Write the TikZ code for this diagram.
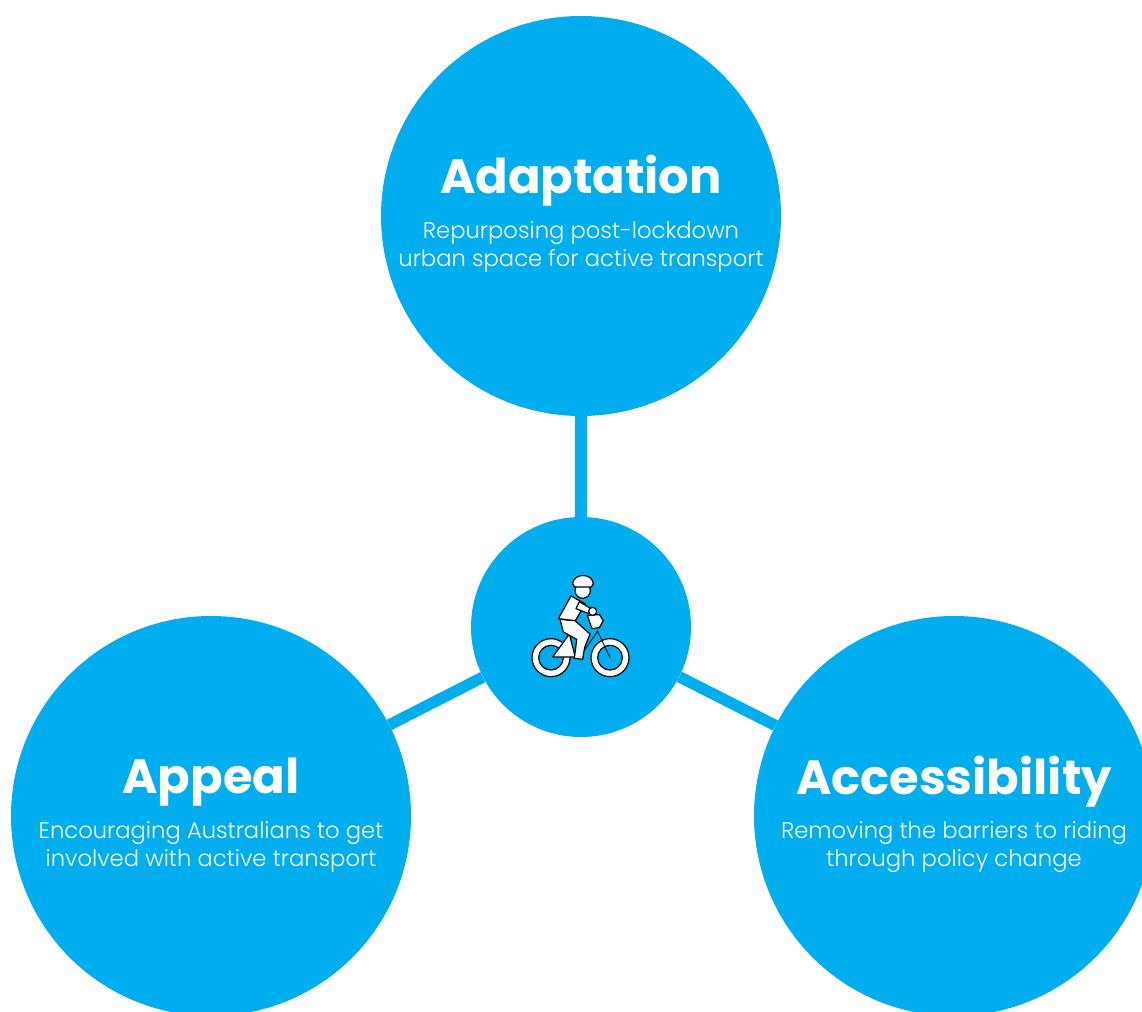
\documentclass[tikz,border=0pt]{standalone}
\usepackage{fontspec}
\setmainfont{Poppins}
\newfontfamily\lightface{Poppins Light}
\definecolor{skyb}{HTML}{00AEEF}
\tikzset{
  bubble/.style={circle,fill=skyb,inner sep=0pt,minimum size=300pt},
  hub/.style={circle,fill=skyb,inner sep=0pt,minimum size=165pt},
  link/.style={draw=skyb,line width=8.5pt},
  heading/.style={text=white,font=\fontsize{36}{40}\selectfont\bfseries,inner sep=0pt},
  blurb/.style={text=white,font=\lightface\fontsize{17}{20.7}\selectfont,align=center,inner sep=0pt},
  ink/.style={draw=black,line width=.9pt,fill=white,line join=round,line cap=round},
  thin ink/.style={draw=black,line width=.6pt,line cap=round}
}
\begin{document}
\begin{tikzpicture}[x=0.75pt,y=-0.75pt]
\path[use as bounding box,clip] (0,0) rectangle (1142,1012);
\fill[white] (0,0) rectangle (1142,1012);
\node[bubble] (top) at (581,216) {};
\node[hub] (mid) at (581,627) {};
\node[bubble] (left) at (211,816) {};
\node[bubble] (right) at (954,816) {};
\draw[link] (top) -- (mid);
\draw[link] (left) -- (mid);
\draw[link] (right) -- (mid);
\node[heading] (t1) at (581,181) {Adaptation};
\node[blurb] (t2) at (581,247) {Repurposing post-lockdown\\urban space for active transport};
\node[heading] (l1) at (211,782) {Appeal};
\node[blurb] (l2) at (211,847) {Encouraging Australians to get\\involved with active transport};
\node[heading] (r1) at (954,782) {Accessibility};
\node[blurb] (r2) at (954,847) {Removing the barriers to riding\\through policy change};
\begin{scope}[shift={(510,560)},x=0.25pt,y=-0.25pt]
  % wheels
  \path[ink,even odd rule] (123,293) circle[radius=57] (123,293) circle[radius=37];
  \path[ink,even odd rule] (300,293) circle[radius=57] (300,293) circle[radius=37];
  % frame
  \draw[thin ink] (262,212) -- (300,293);
  \draw[thin ink] (225,268) -- (262,215);
  \draw[thin ink] (195,290) -- (225,268);
  % seat triangle
  \path[ink] (128,291) -- (178,222) -- (196,291) -- cycle;
  % leg
  \path[ink] (150,178) -- (195,182) -- (240,222) -- (224,262) -- (218,298) -- (193,295) -- (198,255) -- (200,238) -- (160,216) -- cycle;
  % basket
  \path[ink] (232,166) -- (268,164) -- (280,182) -- (268,203) -- (246,206) -- cycle;
  % torso
  \path[ink] (183,108) -- (226,132) -- (196,182) -- (145,176) -- cycle;
  % arm and hand
  \path[ink] (208,125) -- (240,144) -- (234,160) -- (198,146) -- cycle;
  \path[ink] (248,154) circle[radius=12];
  % head and helmet
  \path[ink] (218,92) circle[radius=23];
  \path[ink] (188,72) .. controls (190,38) and (248,38) .. (250,72) -- (244,81) -- (194,81) -- cycle;
\end{scope}
\end{tikzpicture}
\end{document}
